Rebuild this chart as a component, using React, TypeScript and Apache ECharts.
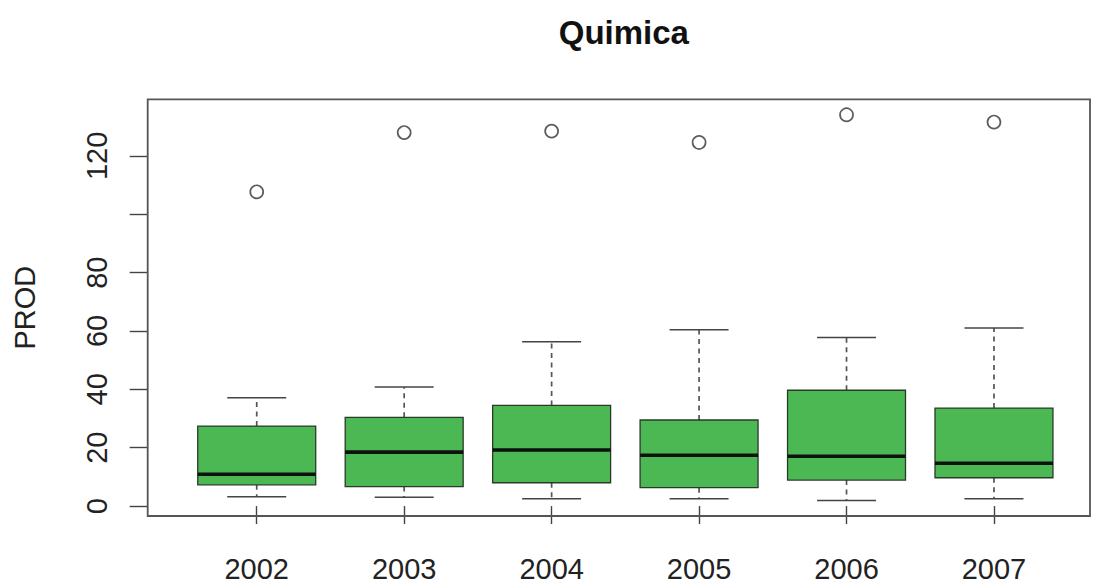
import React, { useEffect, useRef } from "react";
import * as echarts from "echarts";

// Yearly box summaries for PROD (Quimica)
const years = ["2002", "2003", "2004", "2005", "2006", "2007"];
const lowerWhisker = [3.2, 3.0, 2.5, 2.5, 1.9, 2.5];
const q1 = [7.3, 6.7, 8.0, 6.3, 8.9, 9.7];
const median = [10.9, 18.5, 19.2, 17.4, 17.1, 14.7];
const q3 = [27.4, 30.4, 34.5, 29.5, 39.7, 33.6];
const upperWhisker = [37.1, 40.8, 56.3, 60.4, 57.8, 61.0];
const outliers = [107.7, 128.0, 128.5, 124.6, 134.1, 131.6];

const yTicks = [0, 20, 40, 60, 80, 100, 120];
const yLabels = [0, 20, 40, 60, 80, 120];

const FONT = "Liberation Sans, Arial, Helvetica, sans-serif";
const BOX_FILL = "#4cb854";

// plot frame (pixels)
const FRAME = { left: 147.7, top: 99.3, right: 1090, bottom: 516 };
const W = 1093;
const H = 583;
const DATA_LEFT = 183;
const DATA_RIGHT = 1067.7;

export default function App() {
  const ref = useRef<HTMLDivElement>(null);

  useEffect(() => {
    if (!ref.current) return;
    const chart = echarts.init(ref.current, undefined, { renderer: "svg" });

    const boxData = years.map((_, i) => [
      i,
      lowerWhisker[i],
      q1[i],
      median[i],
      q3[i],
      upperWhisker[i],
    ]);
    const outlierData = years.map((y, i) => [i, outliers[i]]);

    const renderBox = (params: any, api: any) => {
      const idx = api.value(0);
      const lo = api.coord([idx, api.value(1)]);
      const b1 = api.coord([idx, api.value(2)]);
      const md = api.coord([idx, api.value(3)]);
      const b3 = api.coord([idx, api.value(4)]);
      const hi = api.coord([idx, api.value(5)]);
      const band = api.size([1, 0])[0];
      const boxW = band * 0.8;
      const capW = boxW * 0.5;
      const cx = lo[0];
      const whiskerStyle = { stroke: "#555", lineWidth: 1.7, lineDash: [5, 4.5] };
      const capStyle = { stroke: "#444", lineWidth: 1.5 };
      return {
        type: "group",
        children: [
          { type: "line", shape: { x1: cx, y1: b3[1], x2: cx, y2: hi[1] }, style: whiskerStyle },
          { type: "line", shape: { x1: cx, y1: b1[1], x2: cx, y2: lo[1] }, style: whiskerStyle },
          { type: "line", shape: { x1: cx - capW / 2, y1: hi[1], x2: cx + capW / 2, y2: hi[1] }, style: capStyle },
          { type: "line", shape: { x1: cx - capW / 2, y1: lo[1], x2: cx + capW / 2, y2: lo[1] }, style: capStyle },
          {
            type: "rect",
            shape: { x: cx - boxW / 2, y: b3[1], width: boxW, height: b1[1] - b3[1] },
            style: { fill: BOX_FILL, stroke: "#2a3a2a", lineWidth: 1.3 },
          },
          {
            type: "line",
            shape: { x1: cx - boxW / 2, y1: md[1], x2: cx + boxW / 2, y2: md[1] },
            style: { stroke: "#0c120c", lineWidth: 3.6 },
          },
        ],
      };
    };

    chart.setOption({
      animation: false,
      backgroundColor: "#ffffff",
      title: {
        text: "Quimica",
        left: (FRAME.left + FRAME.right) / 2,
        top: 11,
        textAlign: "center",
        textStyle: { fontFamily: FONT, fontSize: 33, fontWeight: "bold", color: "#111" },
      },
      grid: {
        left: DATA_LEFT,
        right: W - DATA_RIGHT,
        top: FRAME.top,
        bottom: H - FRAME.bottom,
        show: false,
      },
      xAxis: {
        type: "category",
        data: years,
        boundaryGap: true,
        axisLine: { show: false },
        axisTick: {
          show: true,
          alignWithLabel: true,
          length: 18,
          lineStyle: { color: "#444", width: 1.4 },
        },
        axisLabel: {
          margin: 38,
          fontFamily: FONT,
          fontSize: 29,
          color: "#222",
        },
        splitLine: { show: false },
      },
      yAxis: {
        type: "value",
        min: -3.4,
        max: 139.4,
        offset: DATA_LEFT - FRAME.left,
        name: "PROD",
        nameLocation: "middle",
        nameGap: 108,
        nameTextStyle: { fontFamily: FONT, fontSize: 29, color: "#222" },
        axisLine: { show: false },
        axisTick: {
          show: true,
          length: 18,
          customValues: yTicks,
          lineStyle: { color: "#444", width: 1.4 },
        },
        axisLabel: {
          rotate: 90,
          margin: 36,
          customValues: yLabels,
          fontFamily: FONT,
          fontSize: 29,
          color: "#222",
        },
        splitLine: { show: false },
      },
      graphic: [
        {
          type: "rect",
          shape: {
            x: FRAME.left,
            y: FRAME.top,
            width: FRAME.right - FRAME.left,
            height: FRAME.bottom - FRAME.top,
          },
          style: { fill: "none", stroke: "#555", lineWidth: 1.8 },
          z: 10,
        },
      ],
      series: [
        {
          type: "custom",
          name: "PROD",
          renderItem: renderBox,
          data: boxData,
          encode: { x: 0, y: [1, 2, 3, 4, 5] },
        },
        {
          type: "scatter",
          name: "outliers",
          data: outlierData,
          symbol: "circle",
          symbolSize: 13,
          itemStyle: { color: "#ffffff", borderColor: "#333", borderWidth: 1.7 },
        },
      ],
    });

    return () => chart.dispose();
  }, []);

  return (
    <div
      ref={ref}
      style={{ position: "fixed", left: 0, top: 0, width: W, height: H }}
    />
  );
}
